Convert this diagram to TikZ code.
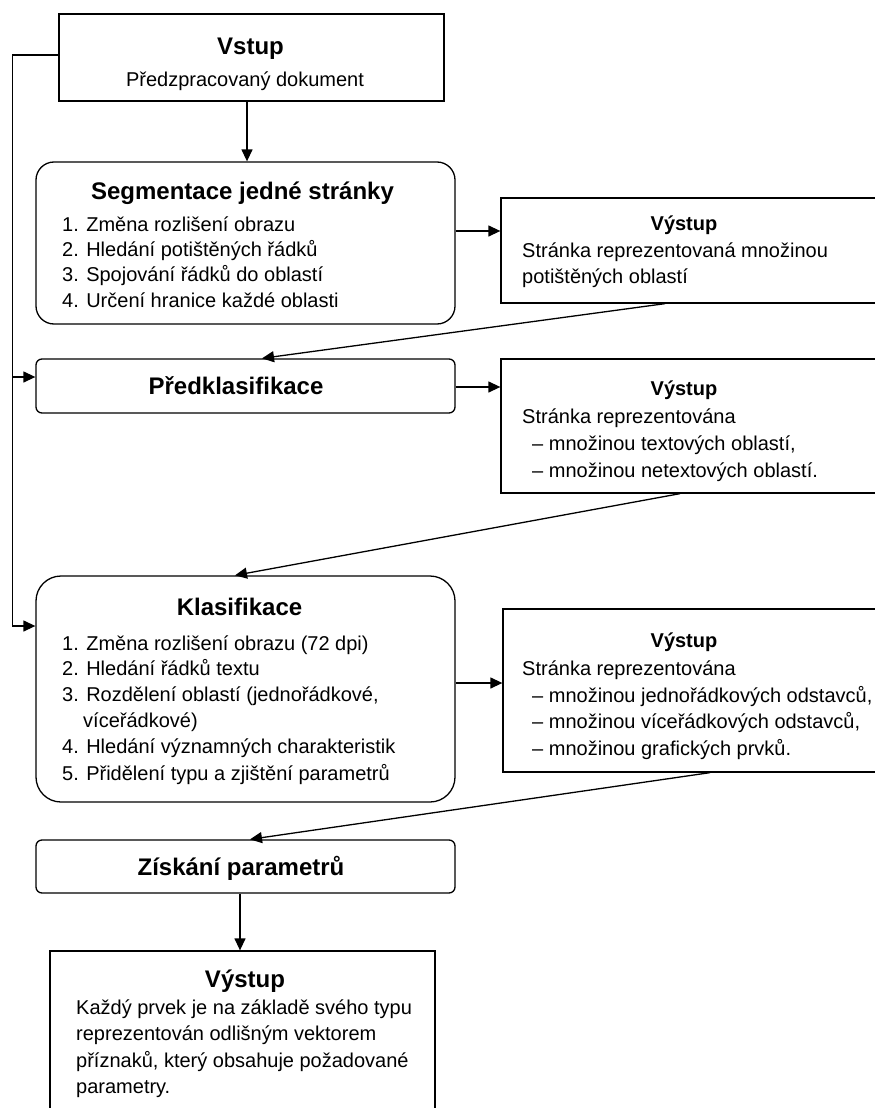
\documentclass[tikz,border=0pt]{standalone}
\usepackage{fontspec}
\setmainfont{Liberation Sans}
\usetikzlibrary{arrows.meta}
\tikzset{
  box/.style={draw, line width=1.3pt, rectangle, inner sep=0pt},
  rbox/.style={box, rounded corners=#1},
  conn/.style={line width=1.3pt},
  arr/.style={conn, -{Triangle[length=12pt,width=11pt]}},
  txt/.style={inner sep=0pt, anchor=base west, font=\fontsize{20}{25}\selectfont},
  ttl/.style={inner sep=0pt, anchor=base, font=\fontsize{24}{29}\selectfont\bfseries},
  otl/.style={inner sep=0pt, anchor=base, font=\fontsize{20}{25}\selectfont\bfseries},
}
\begin{document}
\begin{tikzpicture}[x=1pt, y=-1pt]
\useasboundingbox (0,0) rectangle (875,1108);
\clip (0,0) rectangle (875,1108);
\fill[white] (0,0) rectangle (875,1108);

% boxes
\node[box, minimum width=385pt, minimum height=87pt] (vstup) at (251.5,57.5) {};
\node[rbox=18pt, minimum width=419pt, minimum height=162pt] (seg) at (245.5,243) {};
\node[box, minimum width=394pt, minimum height=105pt] (out1) at (698,250.5) {};
\node[rbox=6pt, minimum width=419pt, minimum height=54pt] (pre) at (245.5,386) {};
\node[box, minimum width=394pt, minimum height=134pt] (out2) at (698,426) {};
\node[rbox=25pt, minimum width=419pt, minimum height=226pt] (kla) at (245.5,689) {};
\node[box, minimum width=392pt, minimum height=163pt] (out3) at (699,690.5) {};
\node[rbox=6pt, minimum width=419pt, minimum height=53pt] (zis) at (245.5,866.5) {};
\node[box, minimum width=385pt, minimum height=169pt] (out4) at (242.5,1035.5) {};

% texts: Vstup
\node[ttl] (t-vstup) at (250.5,55) {Vstup};
\node[inner sep=0pt, anchor=base, font=\fontsize{20}{25}\selectfont] (t-vstup2) at (245,86) {Předzpracovaný dokument};

% Segmentace
\node[ttl] (t-seg) at (242.5,199) {Segmentace jedné stránky};
\node[txt] (s1) at (62,231) {1. Změna rozlišení obrazu};
\node[txt] (s2) at (62,256) {2. Hledání potištěných řádků};
\node[txt] (s3) at (62,281) {3. Spojování řádků do oblastí};
\node[txt] (s4) at (62,307) {4. Určení hranice každé oblasti};

% Output 1
\node[otl] (t-o1) at (684,230) {Výstup};
\node[txt] (o1a) at (522,257) {Stránka reprezentovaná množinou};
\node[txt] (o1b) at (522,283) {potištěných oblastí};

% Predklasifikace
\node[ttl] (t-pre) at (236,394) {Předklasifikace};

% Output 2
\node[otl] (t-o2) at (684,395) {Výstup};
\node[txt] (o2a) at (522,423) {Stránka reprezentována};
\node[txt] (o2b) at (532,450) {– množinou textových oblastí,};
\node[txt] (o2c) at (532,477) {– množinou netextových oblastí.};

% Klasifikace
\node[ttl] (t-kla) at (239.5,615) {Klasifikace};
\node[txt] (k1) at (62,650) {1. Změna rozlišení obrazu (72 dpi)};
\node[txt] (k2) at (62,675) {2. Hledání řádků textu};
\node[txt] (k3) at (62,701) {3. Rozdělení oblastí (jednořádkové,};
\node[txt] (k3b) at (83,727) {víceřádkové)};
\node[txt] (k4) at (62,753) {4. Hledání významných charakteristik};
\node[txt] (k5) at (62,780) {5. Přidělení typu a zjištění parametrů};

% Output 3
\node[otl] (t-o3) at (684,647) {Výstup};
\node[txt] (o3a) at (522,675) {Stránka reprezentována};
\node[txt] (o3b) at (532,702) {– množinou jednořádkových odstavců,};
\node[txt] (o3c) at (532,728) {– množinou víceřádkových odstavců,};
\node[txt] (o3d) at (532,755) {– množinou grafických prvků.};

% Ziskani
\node[ttl] (t-zis) at (241,875) {Získání parametrů};

% Output 4
\node[ttl] (t-o4) at (245,987) {Výstup};
\node[txt] (o4a) at (76,1014) {Každý prvek je na základě svého typu};
\node[txt] (o4b) at (76,1040) {reprezentován odlišným vektorem};
\node[txt] (o4c) at (76,1067) {příznaků, který obsahuje požadované};
\node[txt] (o4d) at (76,1093) {parametry.};

% connectors
\draw[arr] ([xshift=-4.5pt]vstup.south) -- ([xshift=1.5pt]seg.north);
\draw[arr] ([yshift=2.5pt]vstup.west) -- ++(-46,0) |- ([yshift=63pt]kla.west);
\draw[arr] ([xshift=-23pt,yshift=9pt]pre.west) -- ([yshift=9pt]pre.west);
\draw[arr] ([yshift=12pt]seg.east) -- ([yshift=19.5pt]out1.west);
\draw[arr] ([xshift=-33pt]out1.south) -- ([xshift=16.5pt]pre.north);
\draw[arr] ([yshift=-1pt]pre.east) -- ([yshift=39pt]out2.west);
\draw[arr] ([xshift=-18pt]out2.south) -- ([xshift=-10.5pt]kla.north);
\draw[arr] ([yshift=6pt]kla.east) -- ([yshift=7.5pt]out3.west);
\draw[arr] ([xshift=11pt]out3.south) -- ([xshift=4.5pt]zis.north);
\draw[arr] ([xshift=-5.5pt]zis.south) -- ([xshift=-2.5pt]out4.north);
\end{tikzpicture}
\end{document}
